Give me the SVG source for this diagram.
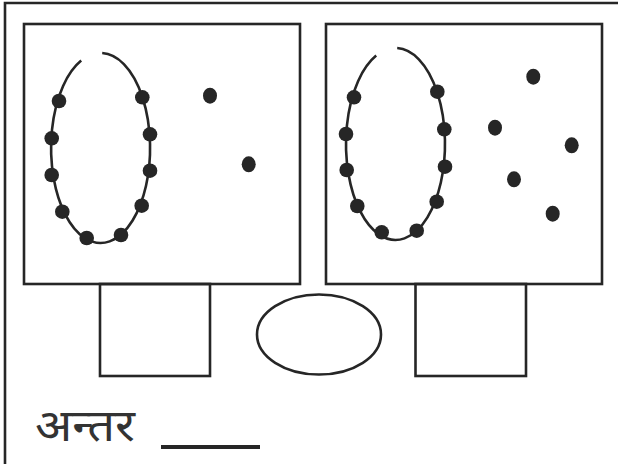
<svg xmlns="http://www.w3.org/2000/svg" width="618" height="464" viewBox="0 0 618 464">
<style>
.ln{fill:none;stroke:#262626;stroke-width:2.6}
.box{fill:none;stroke:#262626;stroke-width:2.6}
.dot{fill:#262626}
.txt{font-family:"Noto Sans Devanagari","Noto Sans","Lohit Devanagari",sans-serif;font-size:44px;fill:#333}
</style>
<rect width="618" height="464" fill="#fff"/>
<g id="frame">
<path class="box" d="M5,464 V3 H618"/>
</g>
<g id="left-box">
<rect class="box" x="24" y="24" width="276" height="260"/>
<path class="ln" d="M81.2,60.6 A49.5 95 0 1 0 102.2,53.06"/>
<circle class="dot" cx="59" cy="101" r="7.3"/>
<circle class="dot" cx="51.7" cy="138.3" r="7.3"/>
<circle class="dot" cx="51.7" cy="175" r="7.3"/>
<circle class="dot" cx="62.3" cy="211.7" r="7.3"/>
<circle class="dot" cx="86.7" cy="238" r="7.3"/>
<circle class="dot" cx="121" cy="235" r="7.3"/>
<circle class="dot" cx="141.7" cy="205.7" r="7.3"/>
<circle class="dot" cx="150" cy="170.7" r="7.3"/>
<circle class="dot" cx="150" cy="134.3" r="7.3"/>
<circle class="dot" cx="142.3" cy="97.3" r="7.3"/>
<ellipse class="dot" cx="210" cy="95.7" rx="7" ry="8"/>
<ellipse class="dot" cx="248.7" cy="164.3" rx="7" ry="8"/>
</g>
<g id="right-box">
<rect class="box" x="326" y="24" width="276" height="260"/>
<path class="ln" d="M376.2,55.6 A49.5 96 0 1 0 397.2,48.06"/>
<circle class="dot" cx="354" cy="97.3" r="7.3"/>
<circle class="dot" cx="346" cy="134" r="7.3"/>
<circle class="dot" cx="346.7" cy="170" r="7.3"/>
<circle class="dot" cx="357.3" cy="206" r="7.3"/>
<circle class="dot" cx="381.7" cy="232.3" r="7.3"/>
<circle class="dot" cx="416.7" cy="230.7" r="7.3"/>
<circle class="dot" cx="436.7" cy="201.7" r="7.3"/>
<circle class="dot" cx="445" cy="166.7" r="7.3"/>
<circle class="dot" cx="444.3" cy="129.3" r="7.3"/>
<circle class="dot" cx="437.3" cy="91.7" r="7.3"/>
<ellipse class="dot" cx="533.3" cy="76.7" rx="7" ry="8"/>
<ellipse class="dot" cx="495" cy="127.7" rx="7" ry="8"/>
<ellipse class="dot" cx="571.7" cy="145.3" rx="7" ry="8"/>
<ellipse class="dot" cx="514" cy="179.3" rx="7" ry="8"/>
<ellipse class="dot" cx="552.7" cy="213.7" rx="7" ry="8"/>
</g>
<g id="left-square">
<rect class="box" x="100" y="284" width="110" height="92"/>
</g>
<g id="middle-ellipse">
<ellipse class="ln" cx="319" cy="334.5" rx="62" ry="40"/>
</g>
<g id="right-square">
<rect class="box" x="415.5" y="284" width="110.5" height="92"/>
</g>
<g id="label">
<text class="txt" x="35" y="441" textLength="100" lengthAdjust="spacingAndGlyphs">अन्तर</text>
<line x1="161" y1="447" x2="260" y2="447" stroke="#262626" stroke-width="4"/>
</g>
<g id="connectors"></g>
</svg>
